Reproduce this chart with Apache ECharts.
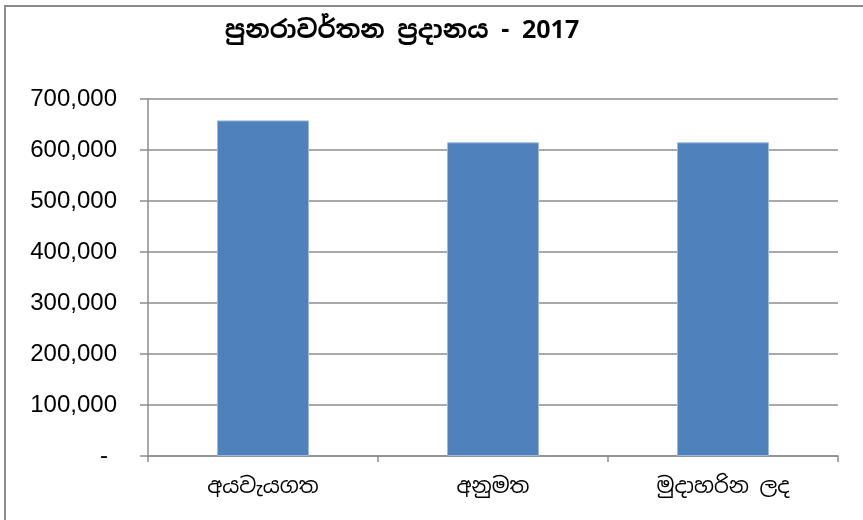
<!DOCTYPE html>
<html>
<head>
<meta charset="utf-8">
<script src="https://cdn.jsdelivr.net/npm/echarts@6/dist/echarts.min.js"></script>
<style>
html,body{margin:0;padding:0;background:#fff;}
#c{width:863px;height:520px;}
</style>
</head>
<body>
<div id="c"></div>
<script>
const titleText = 'පුනරාවර්තන ප්‍රදානය - 2017';
const categories = ['අයවැයගත', 'අනුමත', 'මුදාහරින ලද'];
const values = [658000, 615000, 615000];
const yTicks = { min: 0, max: 700000, interval: 100000 };

const chart = echarts.init(document.getElementById('c'));
const sinhalaFont = '"Noto Sans Sinhala", "Iskoola Pota", "Noto Sans", "Liberation Sans", sans-serif';
chart.setOption({
  animation: false,
  backgroundColor: '#ffffff',
  title: {
    text: titleText,
    left: 397,
    textAlign: 'center',
    top: 14,
    textStyle: { fontFamily: sinhalaFont, fontWeight: 'bold', fontSize: 25, color: '#000' }
  },
  graphic: [{
    type: 'rect',
    shape: { x: 5, y: 6, width: 900, height: 600 },
    style: { fill: 'none', stroke: '#8c8c8c', lineWidth: 2 },
    silent: true
  }],
  grid: { left: 148, right: 25, top: 99, bottom: 64, containLabel: false },
  xAxis: {
    type: 'category',
    data: categories,
    axisLine: { show: true, lineStyle: { color: '#8c8c8c', width: 1.5 } },
    axisTick: { show: true, length: 6, lineStyle: { color: '#8c8c8c', width: 1.5 } },
    axisLabel: { margin: 21, fontFamily: sinhalaFont, fontSize: 21, color: '#000' }
  },
  yAxis: {
    type: 'value',
    min: yTicks.min,
    max: yTicks.max,
    interval: yTicks.interval,
    axisLine: { show: true, lineStyle: { color: '#8c8c8c', width: 1.5 } },
    axisTick: { show: true, length: 8, lineStyle: { color: '#8c8c8c', width: 1.5 } },
    splitLine: { show: true, lineStyle: { color: '#8c8c8c', width: 1.5 } },
    axisLabel: {
      margin: 31,
      fontFamily: '"Liberation Sans", Arial, sans-serif',
      fontSize: 24,
      color: '#000',
      formatter: function (v) {
        if (v === 0) return '{z|-}';
        return v.toLocaleString('en-US');
      },
      rich: { z: { fontSize: 24, padding: [0, 9, 0, 0], fontFamily: '"Liberation Sans", Arial, sans-serif', color: '#000' } }
    }
  },
  series: [{
    type: 'bar',
    data: values,
    barWidth: '40%',
    itemStyle: { color: '#4f81bd', borderColor: '#9db7dd', borderWidth: 1 }
  }]
});
</script>
</body>
</html>
